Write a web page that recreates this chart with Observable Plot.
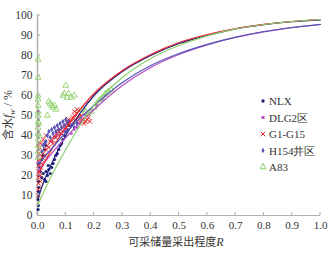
<!DOCTYPE html>
<html><head><meta charset="utf-8">
<script src="https://cdn.jsdelivr.net/npm/d3@7"></script>
<script src="https://cdn.jsdelivr.net/npm/@observablehq/plot@0.6"></script>
<style>body{margin:0;background:#fff}</style>
</head><body><div id="chart"></div>
<script>
const seriesNames = ["NLX", "DLG2区", "G1-G15", "H154井区", "A83"];
const seriesColors = ["#1b1f7a", "#b54fc4", "#e8262c", "#5457b8", "#8ccf6a"];
const xTicks = [0,0.1,0.2,0.3,0.4,0.5,0.6,0.7,0.8,0.9,1.0];
const yTicks = [0,10,20,30,40,50,60,70,80,90,100];

// fitted curves [R, fw]
const curveNLX = [[0.0,8],[0.02,16],[0.05,26],[0.1,40],[0.15,51],[0.2,60],[0.3,72],[0.4,80],[0.5,86],[0.6,90],[0.7,93.3],[0.8,95.4],[0.9,96.9],[1.0,97.8]];
const curveDLG2 = [[0.0,22],[0.05,31],[0.1,39],[0.2,53],[0.3,65],[0.4,74],[0.5,80.5],[0.6,85.3],[0.7,89],[0.8,91.8],[0.9,93.9],[1.0,95.5]];
const curveG1 = [[0.0,20],[0.05,33],[0.1,44],[0.15,53],[0.2,61],[0.3,72.5],[0.4,80.5],[0.5,86.5],[0.6,90.5],[0.7,93.5],[0.8,95.6],[0.9,97],[1.0,98]];
const curveH154 = [[0.0,25],[0.05,33.5],[0.1,41.5],[0.2,55],[0.3,66.5],[0.4,75],[0.5,81],[0.6,85.6],[0.7,89.2],[0.8,92],[0.9,94],[1.0,95.6]];
const curveA83 = [[0.0,5],[0.05,20],[0.1,33],[0.15,45],[0.2,55],[0.3,69],[0.4,78.5],[0.5,85],[0.6,89.8],[0.7,93.3],[0.8,95.5],[0.9,97],[1.0,98]];

// observed points [R, fw]
const ptsNLX = [[0.002,3],[0.003,5],[0.002,8],[0.004,10],[0.003,12],[0.005,14],[0.004,17],[0.006,20],[0.01,22],[0.015,19],[0.02,21],[0.025,18],[0.03,22],[0.035,20],[0.04,23],[0.045,21],[0.03,17],[0.038,25],[0.05,24],[0.055,26],[0.06,28],[0.065,30],[0.07,31],[0.075,33],[0.08,35],[0.085,36],[0.09,38],[0.095,40],[0.1,42],[0.105,43],[0.11,45],[0.02,30],[0.025,33],[0.03,35],[0.015,28],[0.005,26],[0.008,24]];
const ptsDLG2 = [[0.003,27],[0.003,30],[0.003,33],[0.003,36],[0.003,39],[0.003,42],[0.003,45],[0.003,48],[0.003,52],[0.05,37],[0.06,39],[0.07,40],[0.08,41],[0.09,42],[0.1,43],[0.12,41],[0.13,43],[0.14,44],[0.15,46],[0.16,48],[0.17,50],[0.19,53],[0.21,55],[0.23,58],[0.24,60]];
const ptsG1 = [[0.002,10],[0.003,13],[0.004,16],[0.003,19],[0.005,22],[0.004,25],[0.006,28],[0.005,31],[0.007,34],[0.01,20],[0.012,24],[0.015,26],[0.018,29],[0.02,31],[0.025,30],[0.03,33],[0.035,35],[0.04,34],[0.045,37],[0.05,38],[0.055,36],[0.06,40],[0.065,39],[0.07,41],[0.075,42],[0.08,43],[0.085,41],[0.09,44],[0.095,45],[0.1,44],[0.105,47],[0.11,48],[0.12,47],[0.125,49],[0.13,50],[0.135,48],[0.14,51],[0.145,49],[0.15,47],[0.155,50],[0.16,48],[0.165,46],[0.17,47],[0.175,48],[0.18,49],[0.185,47],[0.13,52],[0.14,53],[0.11,45],[0.012,36],[0.02,38],[0.03,40],[0.01,17]];
const ptsH154 = [[0.03,37],[0.035,40],[0.04,42],[0.045,39],[0.05,43],[0.055,41],[0.06,44],[0.065,42],[0.07,45],[0.075,43],[0.08,46],[0.085,44],[0.09,47],[0.095,45],[0.1,48],[0.105,46],[0.11,47],[0.12,45],[0.13,44],[0.14,46],[0.015,32],[0.02,35],[0.025,36]];
const ptsA83 = [[0.002,78],[0.002,69],[0.002,60],[0.002,58],[0.002,55],[0.002,52],[0.002,50],[0.002,47],[0.002,44],[0.002,41],[0.002,38],[0.002,35],[0.002,32],[0.002,29],[0.004,46],[0.006,40],[0.035,50],[0.04,57],[0.045,56],[0.05,55],[0.055,54],[0.06,55],[0.065,53],[0.09,60],[0.095,61],[0.1,65],[0.105,59],[0.11,61],[0.12,59],[0.13,60],[0.16,53],[0.17,52],[0.18,51],[0.19,52],[0.21,56],[0.22,58],[0.23,59],[0.24,61],[0.25,62],[0.26,63],[0.2,54]];

const toObj = (arr) => arr.map(([R, fw]) => ({R, fw}));
const curves = [curveNLX, curveDLG2, curveG1, curveH154, curveA83];
const pts = [ptsNLX, ptsDLG2, ptsG1, ptsH154, ptsA83];
const symbols = ["circle", "square", "times", "diamond", "triangle"];
const serif = "'Liberation Serif', 'Times New Roman', serif";

const marks = [
  Plot.ruleX([0], {stroke: "#b0b0b0", strokeWidth: 1.5}),
  Plot.ruleY([0], {stroke: "#b0b0b0", strokeWidth: 1}),
];
const ptStyle = [
  {fill: seriesColors[0], r: 1.6},
  {fill: seriesColors[1], r: 1.4},
  {stroke: seriesColors[2], r: 2.2, strokeWidth: 1},
  {fill: seriesColors[3], r: 1.7},
  {stroke: seriesColors[4], fill: "none", r: 2.2, strokeWidth: 0.9},
];
pts.forEach((p, i) => {
  marks.push(Plot.dot(toObj(p), {x: "R", y: "fw", symbol: () => symbols[i], ...ptStyle[i]}));
});
curves.forEach((c, i) => {
  marks.push(Plot.line(toObj(c), {x: "R", y: "fw", stroke: seriesColors[i], strokeWidth: 1.2, curve: "monotone-x"}));
});
marks.push(
  Plot.axisY({ticks: yTicks, tickSize: 0, tickPadding: 5, label: null, fontFamily: serif, fontSize: 11.5}),
  Plot.axisX({ticks: xTicks, tickSize: 0, tickPadding: 6, label: null, fontFamily: serif, fontSize: 11, tickFormat: d3.format(".1f")})
);

const chart = Plot.plot({
  width: 331, height: 254,
  marginTop: 15, marginBottom: 39, marginLeft: 37, marginRight: 11,
  x: {domain: [0, 1]},
  y: {domain: [0, 100]},
  symbol: {domain: symbols, range: symbols},
  style: {fontFamily: serif, fontSize: "11px", color: "#333"},
  marks
});
document.getElementById("chart").append(chart);

const svg = d3.select(chart);
const xs = chart.scale("x"), ys = chart.scale("y");
// x tick marks (upward)
xTicks.forEach(t => {
  svg.append("line").attr("x1", xs.apply(t)).attr("x2", xs.apply(t)).attr("y1", ys.apply(0)).attr("y2", ys.apply(0) - 3).attr("stroke", "#aaa");
});
// y tick marks (rightward)
yTicks.slice(1).forEach(t => {
  svg.append("line").attr("x1", xs.apply(0)).attr("x2", xs.apply(0) + 3).attr("y1", ys.apply(t)).attr("y2", ys.apply(t)).attr("stroke", "#aaa");
});
// y label
const yl = svg.append("text").attr("transform", `translate(12,${(ys.apply(0)+ys.apply(100))/2}) rotate(-90)`)
  .attr("text-anchor", "middle").attr("font-size", 12).attr("fill", "#333")
  .attr("font-family", serif);
yl.append("tspan").attr("font-family", "'Noto Sans CJK SC'").attr("font-size", 11).text("含水");
yl.append("tspan").attr("font-style", "italic").text("f");
yl.append("tspan").attr("font-style", "italic").attr("font-size", 8).attr("dy", 3).text("w");
yl.append("tspan").attr("dy", -3).text(" / %");
// x label
const xl = svg.append("text").attr("x", 176).attr("y", 246).attr("text-anchor", "middle")
  .attr("font-size", 11).attr("fill", "#333");
xl.append("tspan").attr("font-family", "'Noto Sans CJK SC'").text("可采储量采出程度");
xl.append("tspan").attr("font-family", serif).attr("font-style", "italic").attr("font-size", 12).text("R");
// legend
const lg = svg.append("g").attr("transform", "translate(263,101)");
const symGen = [d3.symbolCircle, d3.symbolSquare, d3.symbolTimes, d3.symbolDiamond, d3.symbolTriangle];
seriesNames.forEach((name, i) => {
  const g = lg.append("g").attr("transform", `translate(0,${i * 16.5})`);
  const p = g.append("path").attr("d", d3.symbol(symGen[i], i === 2 || i === 4 ? 16 : 9)());
  if (i === 2 || i === 4) p.attr("fill", "none").attr("stroke", seriesColors[i]).attr("stroke-width", 1);
  else p.attr("fill", seriesColors[i]);
  g.append("text").attr("x", 6).attr("y", 4).attr("text-anchor", "start").attr("font-size", 11).attr("fill", "#333")
    .attr("font-family", serif).text(name);
});
</script></body></html>
